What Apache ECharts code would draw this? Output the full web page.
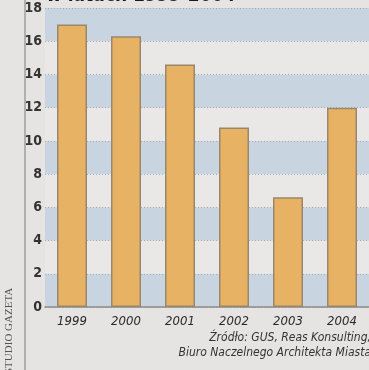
<!DOCTYPE html>
<html>
<head>
<meta charset="utf-8">
<script src="https://cdn.jsdelivr.net/npm/echarts@6/dist/echarts.min.js"></script>
<style>
html,body{margin:0;padding:0;background:#e6e4e3;}
#c{width:369px;height:370px;}
</style>
</head>
<body>
<div id="c"></div>
<script>
const categories = ['1999','2000','2001','2002','2003','2004'];
const values = [17.0, 16.3, 14.6, 10.8, 6.6, 12.0];
const yTicks = [0, 2, 4, 6, 8, 10, 12, 14, 16, 18];
const titleText = 'w latach 1999-2004';
const unitText = 'dane w tys.';
const sourceLines = ['Źródło: GUS, Reas Konsulting,', 'Biuro Naczelnego Architekta Miasta'];
const creditText = 'STUDIO GAZETA';

const fam = '"DejaVu Sans", sans-serif';
const chart = echarts.init(document.getElementById('c'), null, {renderer: 'canvas'});
chart.setOption({
  backgroundColor: '#e6e4e3',
  animation: false,
  grid: {left: 45, right: -8, top: 8, bottom: 63, containLabel: false},
  xAxis: {
    type: 'category',
    data: categories,
    axisLine: {show: true, lineStyle: {color: '#8c8a88', width: 1.5}},
    axisTick: {show: false},
    axisLabel: {color: '#2a2a2a', fontFamily: fam, fontStyle: 'italic', fontWeight: 'normal condensed', fontSize: 13, margin: 8}
  },
  yAxis: {
    type: 'value',
    min: yTicks[0],
    max: yTicks[yTicks.length - 1],
    interval: 2,
    axisLine: {show: false},
    axisTick: {show: false},
    axisLabel: {color: '#333', fontFamily: fam, fontWeight: 'bold condensed', fontSize: 14, margin: 3},
    splitLine: {show: true, lineStyle: {color: '#a9aeb4', type: [1, 2], width: 1}},
    splitArea: {show: true, areaStyle: {color: ['#c8d4e0', '#eae8e7']}}
  },
  series: [{
    type: 'bar',
    data: values,
    barWidth: 30,
    itemStyle: {color: '#e7b264', borderColor: '#9a876b', borderWidth: 1.5}
  }],
  graphic: [
    {type: 'line', shape: {x1: 25, y1: 0, x2: 25, y2: 370}, style: {stroke: '#8f8d8b', lineWidth: 1.2}},
    {type: 'text', x: 46, y: 6, z: 100, style: {text: titleText, fontSize: 19, fontWeight: 'bold condensed', fontFamily: fam, fill: '#1a1a1a', textAlign: 'left', textVerticalAlign: 'bottom'}},
    {type: 'text', x: 368, y: 22, style: {text: unitText, fontSize: 12, fontWeight: 'bold condensed', fontFamily: fam, fill: '#222', textAlign: 'right', textVerticalAlign: 'middle'}},
    {type: 'text', x: 371, y: 338, style: {text: sourceLines[0], fontSize: 12, fontStyle: 'italic', fontWeight: 'normal condensed', fontFamily: fam, fill: '#333', textAlign: 'right', textVerticalAlign: 'middle'}},
    {type: 'text', x: 371, y: 353, style: {text: sourceLines[1], fontSize: 12, fontStyle: 'italic', fontWeight: 'normal condensed', fontFamily: fam, fill: '#333', textAlign: 'right', textVerticalAlign: 'middle'}},
    {type: 'text', x: 9, y: 374, rotation: Math.PI / 2, style: {text: creditText, fontSize: 11, fontFamily: '"Liberation Serif", "DejaVu Serif", serif', fill: '#555', textAlign: 'left', textVerticalAlign: 'middle'}}
  ]
});
</script>
</body>
</html>
